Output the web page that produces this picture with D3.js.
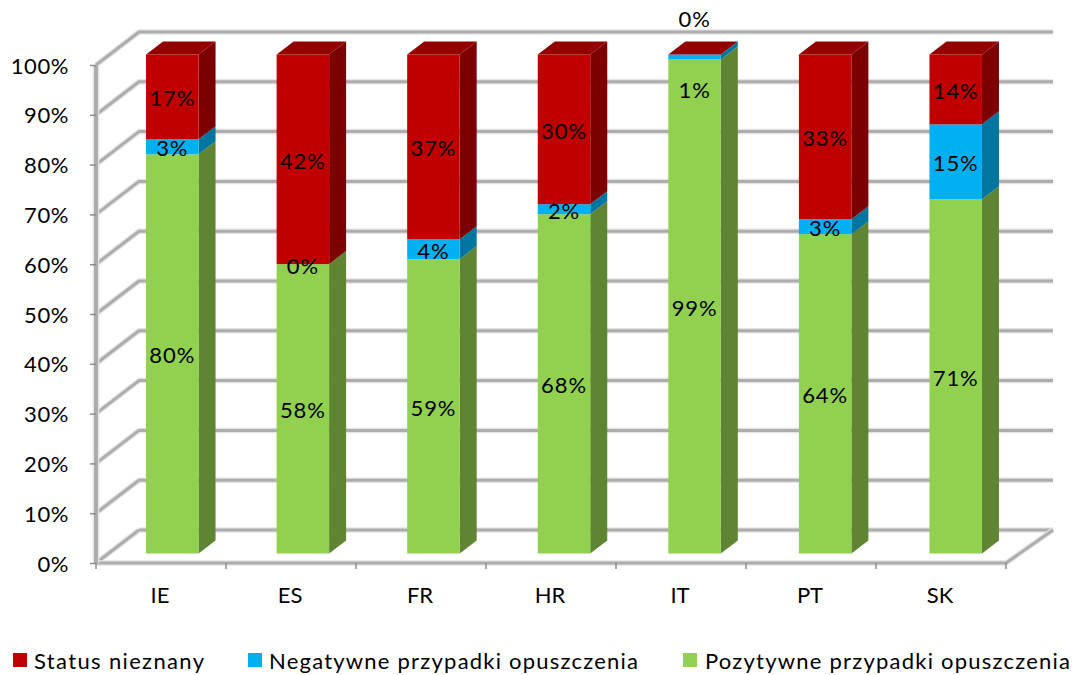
<!DOCTYPE html>
<html>
<head>
<meta charset="utf-8">
<script src="https://cdn.jsdelivr.net/npm/d3@7/dist/d3.min.js"></script>
<style>
  html, body { margin: 0; padding: 0; background: #fff; }
  svg { display: block; font-family: Lato, "Open Sans", sans-serif; fill: #000; }
</style>
</head>
<body>
<svg id="chart" width="1074" height="675"></svg>
<script>
const categories = ["IE", "ES", "FR", "HR", "IT", "PT", "SK"];
const positive = [80, 58, 59, 68, 99, 64, 71];
const negative = [3, 0, 4, 2, 1, 3, 15];
const unknown = [17, 42, 37, 30, 0, 33, 14];
const percentTicks = [0, 10, 20, 30, 40, 50, 60, 70, 80, 90, 100];

const seriesNames = {
  unknown: "Status nieznany",
  negative: "Negatywne przypadki opuszczenia",
  positive: "Pozytywne przypadki opuszczenia"
};
const palette = {
  positive: { front: "#92d050", side: "#5f8432" },
  negative: { front: "#00b0f0", side: "#00759f" },
  unknown: { front: "#c00000", side: "#7d0000", top: "#920000" }
};

// Oblique projection of the 3-D box
const wallDx = 43, wallDy = -33;
const barDx = 17, barDy = -13;
const barWidth = 52.5;

const svg = d3.select("#chart");
const xBand = d3.scaleBand().domain(categories).range([96, 1006]);
const xBars = d3.scaleBand().domain(categories).range([107, 1021]);
const yAxisScale = d3.scaleLinear().domain([0, 100]).range([563, 65]);
const yBar = d3.scaleLinear().domain([0, 100]).range([553.5, 54.5]);
const barLeft = c => xBars(c) + xBars.step() / 2 - barWidth / 2;

// Walls and grid
const gridColor = "#adadad";
const grid = svg.append("g").attr("fill", "none").attr("stroke-linejoin", "round");
function gridPath(d, width = 3) {
  grid.append("path").attr("d", d).attr("stroke", "#e4e4e4").attr("stroke-width", width + 2.5);
  grid.append("path").attr("d", d).attr("stroke", gridColor).attr("stroke-width", width);
}
const [x0, x1] = xBand.range();
const backRight = x1 + wallDx + 4;
percentTicks.forEach(t => {
  const y = yAxisScale(t);
  if (t === 0) {
    gridPath(`M${x0},${y}L${x0 + wallDx},${y + wallDy}`);
    gridPath(`M${x0 + wallDx},${y + wallDy}L${backRight},${y + wallDy}`);
    gridPath(`M${x0},${y}L${x1},${y}L${backRight},${y + wallDy}`);
  } else {
    gridPath(`M${x0},${y}L${x0 + wallDx},${y + wallDy}L${backRight},${y + wallDy}`);
  }
});
gridPath(`M${x0},${yAxisScale(100)}L${x0},${yAxisScale(0)}`, 4);

// Axis tick marks and labels
const tickColor = "#8c8c8c";
const axisLeft = svg.append("g")
  .attr("transform", `translate(${x0},0)`)
  .call(d3.axisLeft(yAxisScale).tickValues(percentTicks).tickSize(6).tickPadding(21)
    .tickFormat(d => d + "%"));
axisLeft.select(".domain").remove();
axisLeft.selectAll("line").attr("stroke", tickColor).attr("stroke-width", 1.5);
axisLeft.selectAll("text").attr("font-size", 22).attr("font-family", "Lato").attr("fill", "#000")
  .attr("letter-spacing", 0.6).attr("y", 1);

const axisBottom = svg.append("g")
  .attr("transform", `translate(0,${yAxisScale(0)})`)
  .call(d3.axisBottom(xBand).tickSize(0).tickPadding(23));
axisBottom.select(".domain").remove();
axisBottom.selectAll("text").attr("font-size", 22).attr("font-family", "Lato").attr("fill", "#000")
  .attr("dx", -1).attr("y", 24);
svg.append("g").selectAll("line").data(d3.range(categories.length + 1)).join("line")
  .attr("x1", i => x0 + i * xBand.step()).attr("x2", i => x0 + i * xBand.step())
  .attr("y1", yAxisScale(0)).attr("y2", yAxisScale(0) + 6)
  .attr("stroke", tickColor).attr("stroke-width", 1.5);

// Stacked 3-D columns
const rows = categories.map((c, i) => ({ c, positive: positive[i], negative: negative[i], unknown: unknown[i] }));
const keys = ["positive", "negative", "unknown"];
const stacked = d3.stack().keys(keys)(rows);

const bars = svg.append("g");
rows.forEach((row, i) => {
  const left = barLeft(row.c), right = left + barWidth;
  const g = bars.append("g");
  stacked.forEach(layer => {
    const [v0, v1] = layer[i];
    if (v1 === v0) return;
    const yb = yBar(v0), yt = yBar(v1), col = palette[layer.key];
    g.append("path")
      .attr("d", `M${right},${yb}L${right + barDx},${yb + barDy}L${right + barDx},${yt + barDy}L${right},${yt}Z`)
      .attr("fill", col.side);
    g.append("rect")
      .attr("x", left).attr("y", yt).attr("width", barWidth).attr("height", yb - yt)
      .attr("fill", col.front);
  });
  const yt = yBar(100);
  g.append("path")
    .attr("d", `M${left},${yt}L${left + barDx},${yt + barDy}L${right + barDx},${yt + barDy}L${right},${yt}Z`)
    .attr("fill", palette.unknown.top);
});

// Value labels; IT's thin segments have theirs moved clear of the bar top
const labelOffset = { "IT:negative": 32, "IT:unknown": -37 };
const labels = svg.append("g").attr("font-size", 22).attr("text-anchor", "middle").attr("fill", "#000")
  .attr("letter-spacing", 0.9);
stacked.forEach(layer => {
  layer.forEach((seg, i) => {
    const c = categories[i];
    const value = seg[1] - seg[0];
    const shift = labelOffset[`${c}:${layer.key}`] || 0;
    labels.append("text")
      .attr("x", barLeft(c) + barWidth / 2)
      .attr("y", yBar((seg[0] + seg[1]) / 2) + 9.5 + shift)
      .text(value + "%");
  });
});

// Legend
const legendItems = [
  { key: "unknown", box: 13, text: 34, width: 170 },
  { key: "negative", box: 248, text: 269, width: 369 },
  { key: "positive", box: 683, text: 705, width: 365 }
];
const legend = svg.append("g");
legendItems.forEach(item => {
  legend.append("rect").attr("x", item.box).attr("y", 653).attr("width", 14).attr("height", 14)
    .attr("fill", palette[item.key].front);
  legend.append("text").attr("x", item.text).attr("y", 669)
    .attr("font-size", 22).attr("fill", "#000")
    .attr("textLength", item.width).attr("lengthAdjust", "spacing")
    .text(seriesNames[item.key]);
});
</script>
</body>
</html>
